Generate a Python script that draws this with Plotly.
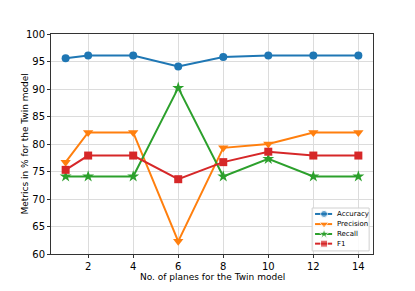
import plotly.graph_objects as go

planes = [1, 2, 4, 6, 8, 10, 12, 14]
accuracy = [95.6, 96.1, 96.1, 94.1, 95.8, 96.1, 96.1, 96.1]
precision = [76.7, 82.1, 82.1, 62.3, 79.3, 80.0, 82.1, 82.1]
recall = [74.1, 74.1, 74.1, 90.2, 74.1, 77.3, 74.1, 74.1]
f1 = [75.3, 77.9, 77.9, 73.6, 76.7, 78.6, 77.9, 77.9]

x_ticks = [2, 4, 6, 8, 10, 12, 14]
y_ticks = [60, 65, 70, 75, 80, 85, 90, 95, 100]

series_names = ["Accuracy", "Precision", "Recall", "F1"]
series_values = [accuracy, precision, recall, f1]
series_colors = ["#1f77b4", "#ff7f0e", "#2ca02c", "#d62728"]
series_symbols = ["circle", "triangle-down", "star", "square"]
series_sizes = [8, 9, 9, 8]

fig = go.Figure()
for name, vals, color, sym, sz in zip(series_names, series_values, series_colors,
                                       series_symbols, series_sizes):
    fig.add_trace(go.Scatter(
        x=planes, y=vals, name=name, mode="lines+markers",
        line=dict(color=color, width=2),
        marker=dict(symbol=sym, size=sz, color=color),
        showlegend=False,
    ))

# --- compact matplotlib-style legend drawn on an overlay axis (0..1 of the plot area)
box_x0, box_x1, box_y0, box_y1 = 0.811, 0.988, 0.014, 0.209
fig.add_trace(go.Scatter(
    x=[box_x0, box_x1, box_x1, box_x0, box_x0],
    y=[box_y0, box_y0, box_y1, box_y1, box_y0],
    mode="lines", fill="toself", fillcolor="rgba(255,255,255,0.85)",
    line=dict(color="#d0d0d0", width=1), hoverinfo="skip", showlegend=False,
    xaxis="x2", yaxis="y2",
))
item_y = [0.182, 0.136, 0.091, 0.047]
for name, color, sym, sz, yy in zip(series_names, series_colors, series_symbols,
                                     series_sizes, item_y):
    fig.add_trace(go.Scatter(
        x=[0.820, 0.848, 0.873], y=[yy, yy, yy], mode="lines+markers",
        line=dict(color=color, width=2),
        marker=dict(symbol=sym, size=[0, sz - 1, 0], color=color),
        hoverinfo="skip", showlegend=False, xaxis="x2", yaxis="y2",
    ))
    fig.add_annotation(
        x=0.881, y=yy, xref="x2", yref="y2", text=name, showarrow=False,
        xanchor="left", yanchor="middle",
        font=dict(family="DejaVu Sans", size=7, color="#000000"),
    )

# axis titles
fig.add_annotation(
    x=-0.082, y=0.5, xref="paper", yref="paper", text="Metrics in % for the Twin model",
    textangle=-90, showarrow=False, xanchor="center", yanchor="middle",
    font=dict(family="DejaVu Sans", size=9, color="#000000"),
)
fig.add_annotation(
    x=0.503, y=-0.104, xref="paper", yref="paper", text="No. of planes for the Twin model",
    showarrow=False, xanchor="center", yanchor="middle",
    font=dict(family="DejaVu Sans", size=9, color="#000000"),
)

axis_common = dict(
    showline=True, linecolor="#333333", linewidth=1, mirror=True,
    ticks="outside", ticklen=3, tickcolor="#333333",
    showgrid=True, gridcolor="#dcdcdc", gridwidth=1,
    zeroline=False,
    tickfont=dict(family="DejaVu Sans", size=10, color="#000000"),
)

fig.update_layout(
    width=415, height=291,
    margin=dict(l=51, r=42, t=34, b=37),
    paper_bgcolor="white", plot_bgcolor="white",
    font=dict(family="DejaVu Sans", color="#000000"),
    xaxis=dict(range=[0.35, 14.65], tickvals=x_ticks, **axis_common),
    yaxis=dict(range=[60, 100], tickvals=y_ticks, **axis_common),
    xaxis2=dict(overlaying="x", range=[0, 1], visible=False, anchor="y2"),
    yaxis2=dict(overlaying="y", range=[0, 1], visible=False, anchor="x2"),
    showlegend=False,
)

fig.write_html("out.html", config={"displayModeBar": False},
               post_script="document.body.style.margin='0px';document.body.style.overflow='hidden';")
